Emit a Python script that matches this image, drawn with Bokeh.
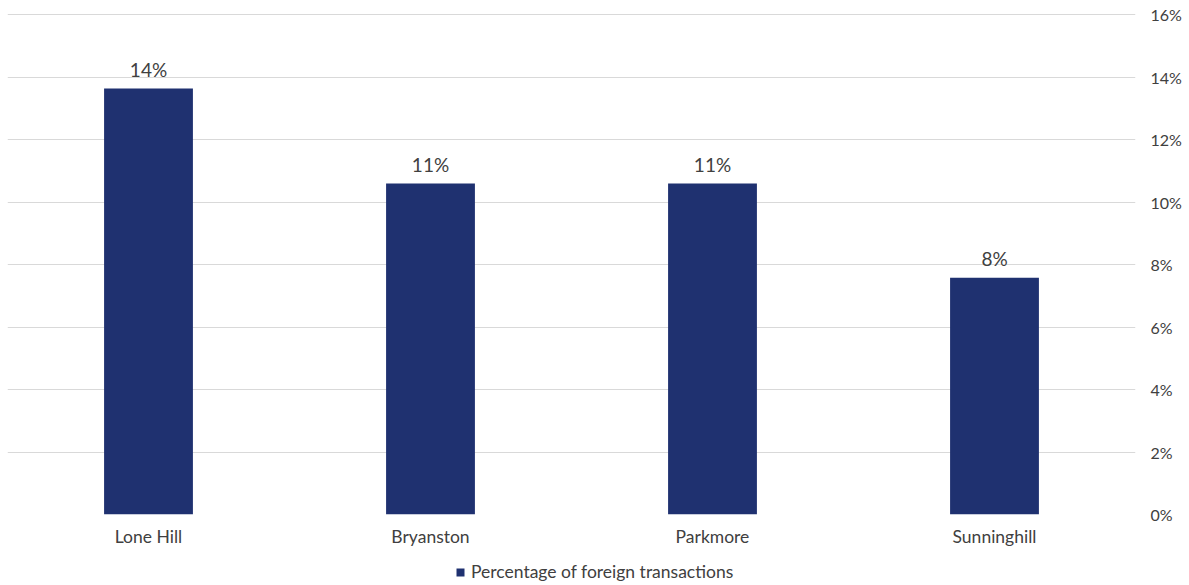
from bokeh.plotting import figure
from bokeh.layouts import column
from bokeh.models import (FactorRange, Range1d, NumeralTickFormatter,
                          ColumnDataSource, Legend, LegendItem, FixedTicker)
from bokeh.core.properties import value
from bokeh.embed import file_html
from bokeh.resources import INLINE

categories = ["Lone Hill", "Bryanston", "Parkmore", "Sunninghill"]
values = [0.1363, 0.1059, 0.1059, 0.0758]
labels = ["14%", "11%", "11%", "8%"]
series_name = "Percentage of foreign transactions"
ticks = [0, 0.02, 0.04, 0.06, 0.08, 0.10, 0.12, 0.14, 0.16]

FONT = "Lato"
TXT = "#404040"
BAR = "#1f3170"

src = ColumnDataSource(dict(x=categories, top=values, label=labels))

p = figure(frame_width=1128, frame_height=501,
           x_range=FactorRange(*categories, range_padding=0),
           y_range=Range1d(0, 0.16032), output_backend="svg", toolbar_location=None,
           y_axis_location="right", min_border_left=7, min_border_top=13,
           min_border_right=0, min_border_bottom=36)
p.outline_line_color = None
p.xgrid.grid_line_color = None
p.ygrid.grid_line_color = "#d9d9d9"
p.ygrid.grid_line_width = 1.2

r = p.vbar(x="x", top="top", width=0.315, source=src, fill_color=BAR, line_color=None)
p.text(x="x", y="top", text="label", source=src, text_align="center",
       text_baseline="bottom", y_offset=-8, text_font=value(FONT),
       text_font_size="19px", text_color=TXT)

ya = p.yaxis[0]
ya.ticker = FixedTicker(ticks=ticks)
ya.formatter = NumeralTickFormatter(format="0%")
ya.axis_line_color = None
ya.major_tick_line_color = None
ya.minor_tick_line_color = None
ya.major_label_standoff = 9
ya.major_label_text_font = FONT
ya.major_label_text_font_size = "16px"
ya.major_label_text_color = TXT

xa = p.xaxis[0]
xa.axis_line_color = None
xa.major_tick_line_color = None
xa.major_label_standoff = 5
xa.major_label_text_font = FONT
xa.major_label_text_font_size = "17.5px"
xa.major_label_text_color = TXT

# legend strip below the chart (bars of the same series, kept outside its visible range)
lg = figure(frame_width=1128, frame_height=34,
            x_range=FactorRange(*categories, range_padding=0), y_range=Range1d(10, 11),
            output_backend="svg", toolbar_location=None, x_axis_type=None, y_axis_type=None,
            min_border_left=7, min_border_top=0, min_border_right=40, min_border_bottom=0)
lg.outline_line_color = None
lg.xgrid.grid_line_color = None
lg.ygrid.grid_line_color = None
lr = lg.vbar(x="x", top="top", width=0.315, source=src, fill_color=BAR, line_color=None)
legend = Legend(items=[LegendItem(label=series_name, renderers=[lr])],
                location=(448, 2), orientation="horizontal",
                label_text_font=FONT, label_text_font_size="17.5px",
                label_text_color=TXT, glyph_width=10, glyph_height=10,
                border_line_color=None, background_fill_alpha=0,
                padding=0, margin=0, label_standoff=6, label_height=18)
lg.add_layout(legend, "center")

layout = column(p, lg, spacing=0)
open("out.html", "w").write(file_html(layout, INLINE))
